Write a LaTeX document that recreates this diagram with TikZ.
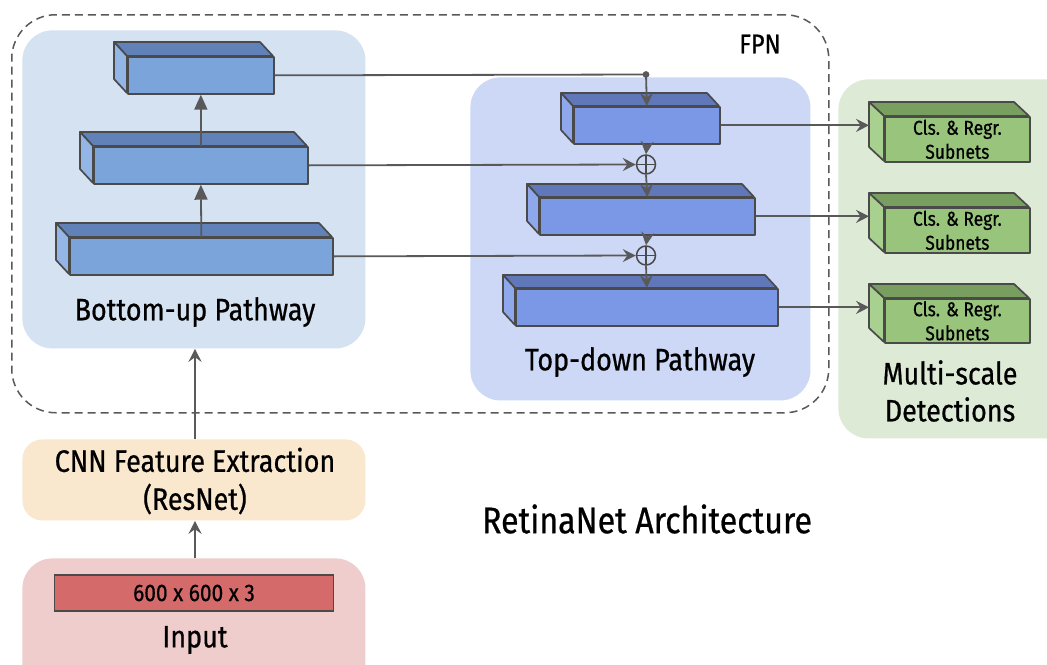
\documentclass[tikz,border=0pt]{standalone}
\usepackage{fontspec}
\setmainfont[FakeStretch=0.87, FakeBold=0.6]{Fira Sans}
\usetikzlibrary{arrows.meta,calc}

\definecolor{edge}{HTML}{4A4A4A}
\definecolor{wire}{HTML}{595959}
\definecolor{bubg}{HTML}{D5E2F2}
\definecolor{tdbg}{HTML}{CCD8F5}
\definecolor{msbg}{HTML}{DDEBD6}
\definecolor{cnnbg}{HTML}{F9E7CE}
\definecolor{inbg}{HTML}{EFCDCD}
\definecolor{inred}{HTML}{D46A6A}
\definecolor{bufrontc}{HTML}{7BA4DB}
\definecolor{butopc}{HTML}{6182B8}
\definecolor{busidec}{HTML}{94B6E6}
\definecolor{tdfrontc}{HTML}{7B98E6}
\definecolor{tdtopc}{HTML}{6077BA}
\definecolor{tdsidec}{HTML}{8FA8EC}
\definecolor{gfrontc}{HTML}{98C47C}
\definecolor{gtopc}{HTML}{789F5F}
\definecolor{gsidec}{HTML}{A8D08E}

% one feature-map slab: front face is a named node, top and side faces drawn behind it
% #1 name, #2 left, #3 top, #4 right, #5 bottom, #6 palette prefix, #7 label
\newcommand\slab[7]{%
  \filldraw[#6top] (#2,#3) -- ++(-\sdx,-\sdy) -- (#4-\sdx,#3-\sdy) -- (#4,#3) -- cycle;
  \filldraw[#6side] (#2,#3) -- ++(-\sdx,-\sdy) -- (#2-\sdx,#5-\sdy) -- (#2,#5) -- cycle;
  \node[#6front, anchor=north west, minimum width={(#4-#2)*0.5pt},
        minimum height={(#5-#3)*0.5pt}] (#1) at (#2,#3) {#7};
}

\tikzset{
  face/.style={draw=edge, line width=0.85pt, line join=round},
  butop/.style={face, fill=butopc}, buside/.style={face, fill=busidec},
  bufront/.style={face, fill=bufrontc, inner sep=0pt},
  tdtop/.style={face, fill=tdtopc}, tdside/.style={face, fill=tdsidec},
  tdfront/.style={face, fill=tdfrontc, inner sep=0pt},
  gtop/.style={face, fill=gtopc}, gside/.style={face, fill=gsidec},
  gfront/.style={face, fill=gfrontc, inner sep=0pt, align=center,
    font=\fontsize{10}{12}\selectfont},
  panel/.style={rounded corners=15pt},
  label/.style={font=\fontsize{15.5}{19}\selectfont, align=center, inner sep=0pt},
  wireline/.style={draw=wire, line width=0.9pt},
  arr/.style={wireline, -{Stealth[length=6.5pt, width=6.5pt, inset=2.3pt]}},
  uparr/.style={wireline, -{Triangle[length=7.5pt, width=6.5pt]}, draw=wire, fill=wire},
  plus/.style={circle, draw=edge, line width=0.75pt, minimum size=9.5pt, inner sep=0pt,
    path picture={\draw[edge, line width=0.75pt]
      (path picture bounding box.north) -- (path picture bounding box.south)
      (path picture bounding box.west) -- (path picture bounding box.east);}},
}

\begin{document}
\begin{tikzpicture}[x=0.5pt, y=-0.5pt]
  \clip (0,0) rectangle (1047,664);
  \fill[white] (0,0) rectangle (1047,664);

  % panels
  \node[panel, fill=bubg, minimum width=171.5pt, minimum height=159pt, anchor=north west] (bupanel) at (22,30) {};
  \node[panel, fill=tdbg, minimum width=170pt, minimum height=161.5pt, anchor=north west] (tdpanel) at (470,77) {};
  \node[panel, fill=msbg, minimum width=120pt, minimum height=179.5pt, anchor=north west] (mspanel) at (838,79) {};
  \node[panel, fill=cnnbg, minimum width=171.5pt, minimum height=40.5pt, anchor=north west, rounded corners=10pt] (cnn) at (22,439) {};
  \node[panel, fill=inbg, minimum width=171.5pt, minimum height=70pt, anchor=north west] (input) at (22,558) {};

  % FPN frame
  \node[draw=wire, line width=0.75pt, dash pattern=on 4pt off 2.5pt, rounded corners=22pt,
        minimum width=408.5pt, minimum height=199pt, anchor=north west] (fpn) at (11,14) {};
  \node[font=\fontsize{13.5}{16}\selectfont, inner sep=0pt] (fpnlabel) at (760,44) {FPN};

  % bottom-up pathway
  \def\sdx{13}\def\sdy{14}
  \slab{bu1}{127}{56}{273}{93}{bu}{}
  \slab{bu2}{93}{146}{307}{183}{bu}{}
  \slab{bu3}{69}{237}{332}{274}{bu}{}
  \node[label] (bulabel) at (195,312) {Bottom-up Pathway};

  % top-down pathway
  \def\sdx{12}\def\sdy{13}
  \slab{td1}{573}{106}{719}{143}{td}{}
  \slab{td2}{539}{197}{754}{234}{td}{}
  \slab{td3}{515}{288}{777}{325}{td}{}
  \node[label] (tdlabel) at (640,362) {Top-down Pathway};

  % detection heads
  \def\sdx{15}\def\sdy{14}
  \slab{g1}{884}{116}{1029}{161}{g}{Cls. \& Regr.\\Subnets}
  \slab{g2}{884}{207}{1029}{252}{g}{Cls. \& Regr.\\Subnets}
  \slab{g3}{884}{298}{1029}{342}{g}{Cls. \& Regr.\\Subnets}
  \node[label, font=\fontsize{15.5}{18.5}\selectfont] (mslabel) at (950,391) {Multi-scale\\Detections};

  % merge points
  \node[plus] (plus1) at (646,164.5) {};
  \node[plus] (plus2) at (646,255.5) {};
  \coordinate (tap) at (646,74.5);

  % backbone and input
  \node[label] (cnnlabel) at (195,481) {CNN Feature Extraction\\(ResNet)};
  \node[draw=edge, line width=0.75pt, fill=inred, minimum width=139.5pt, minimum height=18pt,
        inner sep=0pt, font=\fontsize{12}{14}\selectfont] (inrect) at (194,593) {600 x 600 x 3};
  \node[label] (inlabel) at (195,640) {Input};
  \node[inner sep=0pt, font=\fontsize{18.5}{22}\selectfont] (title) at (647,519) {RetinaNet Architecture};

  % connectors
  \draw[uparr] (bu3.north) -- (bu2.south);
  \draw[uparr] (bu2.north) -- (bu1.south);
  \draw[wireline] (bu1.east) -- (tap);
  \fill[wire] (tap) circle (1.7pt);
  \draw[arr] (tap) -- (td1.north);
  \draw[arr] (td1.south) -- (plus1.north);
  \draw[arr] (plus1.south) -- (td2.north);
  \draw[arr] (td2.south) -- (plus2.north);
  \draw[arr] (plus2.south) -- (td3.north);
  \draw[arr] (bu2.east) -- (plus1.west);
  \draw[arr] (bu3.east) -- (plus2.west);
  \draw[arr] (td1.east) -- ([xshift=-7.5pt]td1.east -| g1.west);
  \draw[arr] (td2.east) -- ([xshift=-7.5pt]td2.east -| g2.west);
  \draw[arr] (td3.east) -- ([xshift=-7.5pt]td3.east -| g3.west);
  \draw[arr] (cnn.north -| bulabel) -- (bupanel.south -| bulabel);
  \draw[arr] (input.north -| inlabel) -- (cnn.south -| inlabel);
\end{tikzpicture}
\end{document}
